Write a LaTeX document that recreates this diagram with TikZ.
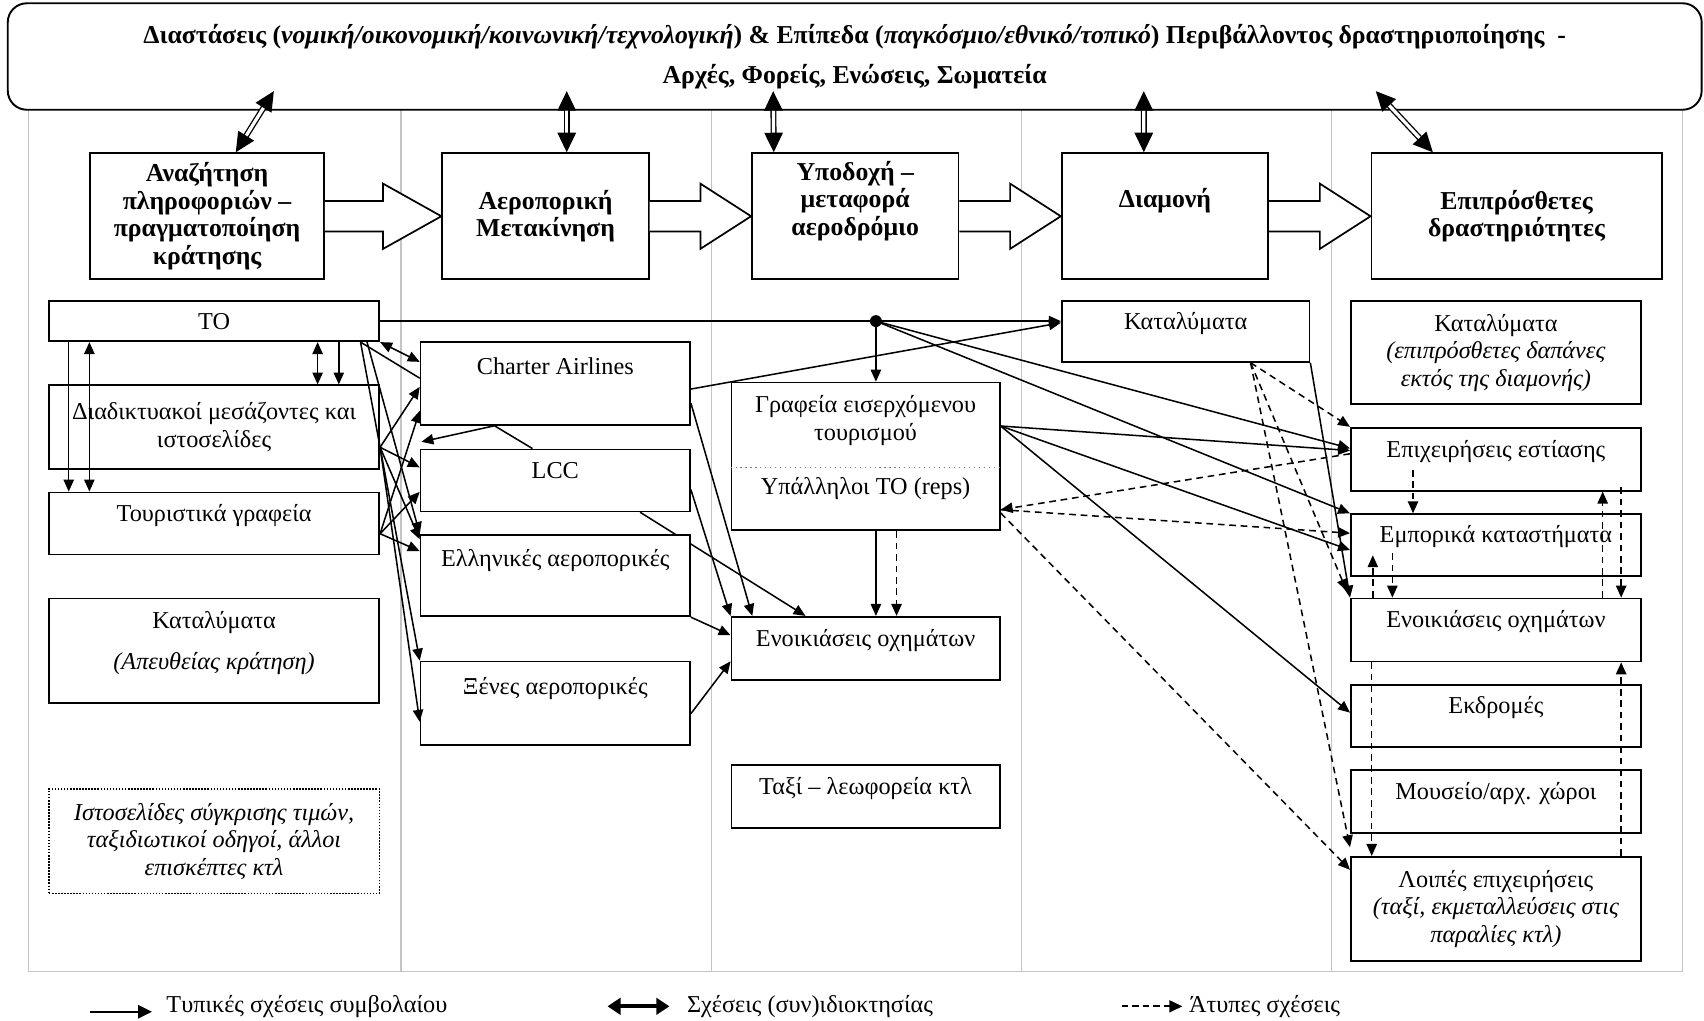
\documentclass[tikz,border=0pt]{standalone}
\usepackage{fontspec}
\setmainfont{Liberation Serif}
\usepackage{xcolor}
\usepackage{tikz}
\usetikzlibrary{arrows.meta, positioning, backgrounds, calc}
\definecolor{lanegray}{HTML}{C4C4C4}
\definecolor{dotgray}{HTML}{7A7A7A}
\tikzstyle{titlebox} = [rectangle, rounded corners=0.35cm, draw, fill=white, line width=1pt,
  align=center, font=\fontsize{13.5}{15.5}\selectfont\bfseries]
\tikzstyle{stagebox} = [rectangle, draw, fill=white, line width=1pt, minimum width=3.8cm,
  minimum height=2.32cm, align=center, inner sep=2pt, font=\fontsize{13.5}{14.4}\selectfont\bfseries]
\tikzstyle{actorbox} = [rectangle, draw, fill=white, line width=0.9pt, align=center, inner sep=2pt,
  font=\fontsize{12.7}{14.4}\selectfont]
\tikzstyle{upper} = [text height=0.3cm, text depth=0.38cm]
\tikzstyle{legendtext} = [anchor=west, font=\fontsize{12.7}{14.4}\selectfont]
\tikzstyle{formal} = [line width=0.8pt, -{Triangle[length=0.22cm, width=0.19cm]}]
\tikzstyle{formalboth} = [line width=0.8pt, {Triangle[length=0.22cm, width=0.19cm]}-{Triangle[length=0.22cm, width=0.19cm]}]
\tikzstyle{informal} = [formal, dash pattern=on 3.5pt off 2.5pt]
\tikzstyle{owner} = [double, double distance=1.7pt, line width=0.7pt,
  {Triangle[length=0.36cm, width=0.34cm]}-{Triangle[length=0.36cm, width=0.34cm]}]
\tikzstyle{blockarrow} = [draw, fill=white, line width=0.9pt]
\tikzstyle{lane} = [draw=lanegray, line width=0.6pt]

\begin{document}
\begin{tikzpicture}[x=0.02cm, y=-0.02cm]
  \useasboundingbox (0,0) rectangle (1568,939);

  \draw[lane] (26,101) rectangle (1548,894);
  \foreach \x in {369,655,940,1225}
    \draw[lane] (\x,101) -- (\x,894);

  \node (env) [titlebox, minimum width=31.18cm, minimum height=1.96cm] at (786.5,52)
    {Διαστάσεις (\textit{νομική/οικονομική/κοινωνική/τεχνολογική}) \& Επίπεδα (\textit{παγκόσμιο/εθνικό/τοπικό}) Περιβάλλοντος δραστηριοποίησης\ \ -\\[0.2cm]
     Αρχές, Φορείς, Ενώσεις, Σωματεία};

  % stages
  \node (s1) [stagebox, minimum width=4.3cm] at (190.5,199) {Αναζήτηση\\πληροφοριών –\\πραγματοποίηση\\κράτησης};
  \node (s2) [stagebox] at (502,199) {Αεροπορική\\Μετακίνηση};
  \node (s3) [stagebox] at (787,199) {Υποδοχή –\\μεταφορά\\αεροδρόμιο\\\strut};
  \node (s4) [stagebox] at (1072,199) {Διαμονή\\\strut};
  \node (s5) [stagebox, minimum width=5.34cm] at (1395.5,199) {Επιπρόσθετες\\δραστηριότητες};

  % booking
  \node (to) [actorbox, minimum width=6.08cm, minimum height=0.74cm] at (197,295.5) {TO};
  \node (web) [actorbox, minimum width=6.08cm, minimum height=1.54cm, below=0.78cm of to] {Διαδικτυακοί μεσάζοντες και\\ιστοσελίδες};
  \node (agents) [actorbox, upper, minimum width=6.08cm, minimum height=1.14cm, below=0.4cm of web] {Τουριστικά γραφεία};
  \node (direct) [actorbox, minimum width=6.08cm, minimum height=1.92cm, below=0.78cm of agents] {Καταλύματα\\[0.25cm]\textit{(Απευθείας κράτηση)}\\[-0.3cm]\strut};
  \node (reviews) [actorbox, minimum width=6.08cm, minimum height=1.92cm, below=1.56cm of direct,
    dash pattern=on 0.8pt off 0.8pt, line width=0.6pt, font=\fontsize{12.7}{14.4}\selectfont\itshape]
    {Ιστοσελίδες σύγκρισης τιμών,\\ταξιδιωτικοί οδηγοί, άλλοι\\επισκέπτες κτλ};

  % flight
  \node (charter) [actorbox, minimum width=4.96cm, minimum height=1.52cm] at (511,353) {Charter Airlines\\\strut};
  \node (lcc) [actorbox, upper, minimum width=4.96cm, minimum height=1.14cm, below=0.42cm of charter] {LCC};
  \node (greek) [actorbox, minimum width=4.96cm, minimum height=1.5cm, below=0.4cm of lcc] {Ελληνικές αεροπορικές\\\strut};
  \node (foreign) [actorbox, minimum width=4.96cm, minimum height=1.54cm, below=0.8cm of greek] {Ξένες αεροπορικές\\\strut};

  % airport
  \node (inbound) [actorbox, minimum width=4.94cm, minimum height=2.72cm] at (796.5,420)
    {Γραφεία εισερχόμενου\\τουρισμού\\[0.5cm]Υπάλληλοι TO (reps)\\[-0.25cm]\strut};
  \draw[dotgray, dotted, line width=0.6pt] ($(inbound.west)+(0,10)$) -- ($(inbound.east)+(0,10)$);
  \node (rental3) [actorbox, upper, minimum width=4.94cm, minimum height=1.16cm, below=1.56cm of inbound] {Ενοικιάσεις οχημάτων};
  \node (taxi) [actorbox, upper, minimum width=4.94cm, minimum height=1.16cm, below=1.54cm of rental3] {Ταξί – λεωφορεία κτλ};

  % stay
  \node (hotel4) [actorbox, upper, minimum width=4.56cm, minimum height=1.12cm] at (1091,305) {Καταλύματα};

  % extra activities
  \node (extra) [actorbox, minimum width=5.34cm, minimum height=1.9cm] at (1376.5,324.5)
    {Καταλύματα\\\textit{(επιπρόσθετες δαπάνες}\\\textit{εκτός της διαμονής)}};
  \node (food) [actorbox, upper, minimum width=5.34cm, minimum height=1.16cm, below=0.4cm of extra] {Επιχειρήσεις εστίασης};
  \node (shops) [actorbox, upper, minimum width=5.34cm, minimum height=1.14cm, below=0.4cm of food] {Εμπορικά καταστήματα};
  \node (rental5) [actorbox, upper, minimum width=5.34cm, minimum height=1.16cm, below=0.38cm of shops] {Ενοικιάσεις οχημάτων};
  \node (tours) [actorbox, upper, minimum width=5.34cm, minimum height=1.14cm, below=0.4cm of rental5] {Εκδρομές};
  \node (museum) [actorbox, upper, minimum width=5.34cm, minimum height=1.16cm, below=0.4cm of tours] {Μουσείο/αρχ. χώροι};
  \node (other) [actorbox, minimum width=5.34cm, minimum height=1.92cm, below=0.4cm of museum]
    {Λοιπές επιχειρήσεις\\\textit{(ταξί, εκμεταλλεύσεις στις}\\\textit{παραλίες κτλ)}};

  % stage flow
  \foreach \a/\b in {s1/s2, s2/s3, s3/s4, s4/s5}
    \draw[blockarrow] ($(\a.east)+(0,-14)$) -- ($(\a.east)!.5!(\b.west)+(0,-14)$) -- ($(\a.east)!.5!(\b.west)+(0,-30)$)
      -- (\b.west) -- ($(\a.east)!.5!(\b.west)+(0,30)$) -- ($(\a.east)!.5!(\b.west)+(0,14)$) -- ($(\a.east)+(0,14)$);

  \draw[owner] ($(env.south)+(-534.5,-18)$) -- ($(s1.north)+(26.5,0)$);
  \draw[owner] ($(env.south)+(-265,-18)$) -- ($(s2.north)+(19.5,0)$);
  \draw[owner] ($(env.south)+(-75,-18)$) -- ($(s3.north)+(-75,0)$);
  \draw[owner] ($(env.south)+(266,-18)$) -- ($(s4.north)+(-19.5,0)$);
  \draw[owner] ($(env.south)+(479.5,-18)$) -- ($(s5.north)+(-77,0)$);

  % booking links
  \draw[formal] ($(to.south west)+(19,0)$) -- ($(agents.north west)+(19,0)$);
  \draw[formalboth] ($(to.south west)+(38,0)$) -- ($(agents.north west)+(38,0)$);
  \draw[formalboth] ($(to.south east)+(-57.5,0)$) -- ($(web.north east)+(-57.5,0)$);
  \draw[formal] ($(to.south east)+(-38,0)$) -- ($(web.north east)+(-38,0)$);

  \draw[formalboth] (to.south east) -- ($(charter.west)+(0,-20)$);
  \draw[formal, -] ($(to.south east)+(-18,0)$) -- ($(charter.west)+(0,-5)$);
  \draw[formal] ($(to.south east)+(-12,0)$) -- (greek.north west);
  \draw[formal] ($(to.south east)+(-18,0)$) -- (foreign.north west);

  \draw[formal] ($(web.east)+(0,18.5)$) -- ($(charter.west)+(0,3)$);
  \draw[formal] ($(web.east)+(0,18.5)$) -- ($(lcc.west)+(0,-12)$);
  \draw[formal] ($(web.east)+(0,18.5)$) -- ($(greek.north west)+(0,5)$);
  \draw[formal] ($(web.east)+(0,18.5)$) -- ($(foreign.west)+(0,17)$);

  \draw[formal] ($(agents.east)+(0,9.5)$) -- ($(charter.west)+(0,25)$);
  \draw[formal] ($(agents.east)+(0,9.5)$) -- ($(lcc.west)+(0,10.5)$);
  \draw[formal] ($(agents.east)+(0,9.5)$) -- ($(greek.west)+(0,-22.5)$);

  \draw[formal] ($(lcc.north)+(-21,0)$) -- ($(charter.south)+(-56,0)$) -- ($(web.east)+(38,13.5)$);

  % flight links
  \draw[formal] ($(charter.east)+(0,18)$) -- ($(rental3.north west)+(20,0)$);
  \draw[formal] ($(lcc.east)+(0,8.5)$) -- (rental3.north west);
  \begin{scope}[on background layer]
    \draw[formal] ($(lcc.south)+(78,0)$) -- ($(rental3.north west)+(69,0)$);
  \end{scope}
  \draw[formal] (greek.south east) -- ($(rental3.west)+(0,-12)$);
  \draw[formal] ($(foreign.east)+(0,9.5)$) -- ($(rental3.west)+(0,12)$);
  \draw[formal] ($(charter.east)+(0,5)$) -- ($(hotel4.west)+(0,-8)$);

  % TO to accommodation
  \draw[formal] (to.east) -- (to.east -| hotel4.west);
  \coordinate (hub) at ($(to.east -| inbound.north)+(9.5,0)$);
  \fill (hub) circle (0.11cm);
  \draw[formal] (hub) -- (hub |- inbound.north);
  \draw[formal] (hub) -- ($(food.west)+(0,-10)$);
  \draw[formal] (hub) -- (shops.north west);

  % airport links
  \draw[formal] ($(inbound.east)+(0,-28)$) -- ($(food.west)+(0,-8)$);
  \draw[formal] ($(inbound.east)+(0,-28)$) -- ($(shops.west)+(0,4.5)$);
  \draw[formal] ($(inbound.east)+(0,-28)$) -- ($(tours.west)+(0,-3)$);
  \draw[formal] ($(inbound.south)+(9.5,0)$) -- ($(rental3.north)+(9.5,0)$);
  \draw[informal] ($(inbound.south)+(28.5,0)$) -- ($(rental3.north)+(28.5,0)$);

  \draw[informal] ($(food.west)+(0,-5)$) -- ($(inbound.east)+(0,49)$);
  \draw[informal] ($(inbound.east)+(0,49)$) -- ($(shops.west)+(0,-11)$);
  \draw[informal] ($(inbound.east)+(0,52)$) -- ($(other.west)+(0,-36)$);

  % stay links
  \draw[formal] (hotel4.south east) -- (rental5.north west);
  \draw[informal] ($(hotel4.south east)+(-55,0)$) -- (food.north west);
  \draw[informal] ($(hotel4.south east)+(-55,0)$) -- ($(rental5.north west)+(-3,-6)$);
  \draw[informal] ($(hotel4.south east)+(-55,0)$) -- ($(other.north west)+(0,-8)$);

  % extra activities links
  \draw[informal] ($(food.south west)+(58,-20)$) -- ($(shops.north west)+(58,0)$);
  \draw[informal] ($(rental5.north west)+(21,0)$) -- ($(shops.south west)+(21,-20)$);
  \draw[informal] ($(shops.south west)+(39,-22)$) -- ($(rental5.north west)+(39,0)$);
  \draw[informal] ($(rental5.north east)+(-36,0)$) -- ($(food.south east)+(-36,0)$);
  \draw[informal] ($(food.south east)+(-19,-4)$) -- ($(rental5.north east)+(-19,0)$);
  \draw[informal] ($(rental5.south west)+(20,0)$) -- ($(other.north west)+(20,0)$);
  \draw[informal] ($(other.north east)+(-19,0)$) -- ($(rental5.south east)+(-19,0)$);

  % legend
  \node (lg1) [legendtext] at (147,926) {Τυπικές σχέσεις συμβολαίου};
  \node (lg2) [legendtext] at (626,926) {Σχέσεις (συν)ιδιοκτησίας};
  \node (lg3) [legendtext] at (1088,926) {Άτυπες σχέσεις};
  \draw[line width=1.3pt, -{Triangle[length=0.26cm, width=0.24cm]}] ($(lg1.west)+(-64,5)$) -- ($(lg1.west)+(-7,5)$);
  \draw[line width=2pt, {Triangle[length=0.24cm, width=0.3cm]}-{Triangle[length=0.24cm, width=0.3cm]}] ($(lg2.west)+(-67,0)$) -- ($(lg2.west)+(-10,0)$);
  \draw[line width=1pt, dash pattern=on 3.5pt off 2pt, -{Triangle[length=0.24cm, width=0.22cm]}] ($(lg3.west)+(-56,0)$) -- (lg3.west);
\end{tikzpicture}
\end{document}
